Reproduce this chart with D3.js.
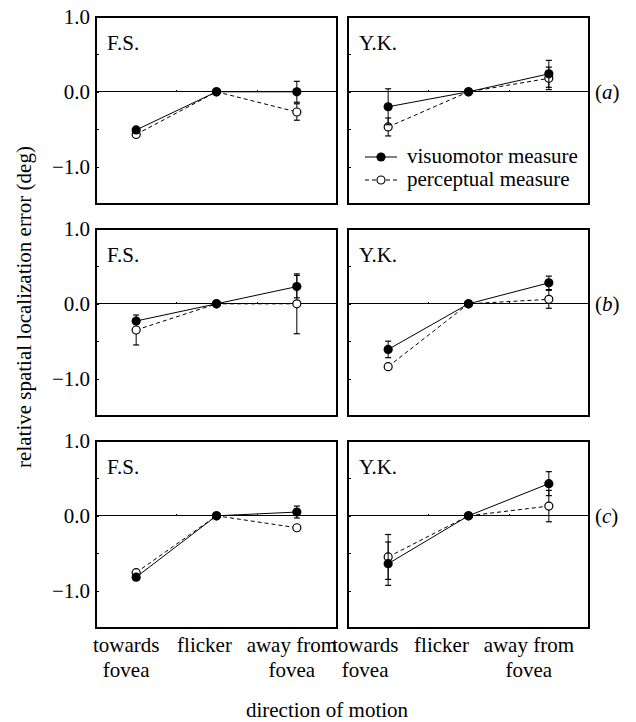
<!DOCTYPE html>
<html lang="en">
<head>
<meta charset="utf-8">
<script src="https://d3js.org/d3.v7.min.js"></script>
<style>
body { margin: 0; background: #fff; }
svg { font-family: "Liberation Serif", "Times New Roman", serif; }
.axis path { display: none; }
.axis line { stroke: #000; stroke-width: 1; shape-rendering: crispEdges; }
.axis text { font-size: 21px; fill: #000; font-family: "Liberation Serif", "Times New Roman", serif; }
</style>
</head>
<body>
<svg id="chart"></svg>
<script>
// categories along x, subjects (columns) and conditions (rows)
var categories = [["towards", "fovea"], ["flicker"], ["away from", "fovea"]];
var subjects = ["F.S.", "Y.K."];
var rowLabels = ["a", "b", "c"];
var yTicks = [-1.5, -1.0, -0.5, 0.0, 0.5, 1.0];

// mean error (deg), [row][subject][category]
var visMean = [
  [[-0.51, 0, 0.00], [-0.20, 0, 0.24]],
  [[-0.23, 0, 0.23], [-0.61, 0, 0.28]],
  [[-0.82, 0, 0.05], [-0.64, 0, 0.43]]
];
var visErr = [
  [[0.00, 0, 0.14], [0.24, 0, 0.18]],
  [[0.00, 0, 0.15], [0.11, 0, 0.09]],
  [[0.00, 0, 0.08], [0.29, 0, 0.16]]
];
var percMean = [
  [[-0.57, 0, -0.27], [-0.47, 0, 0.18]],
  [[-0.35, 0, 0.00], [-0.84, 0, 0.06]],
  [[-0.76, 0, -0.16], [-0.55, 0, 0.13]]
];
var percErr = [
  [[0.00, 0, 0.11], [0.12, 0, 0.15]],
  [[0.20, 0, 0.40], [0.00, 0, 0.12]],
  [[0.00, 0, 0.00], [0.30, 0, 0.21]]
];

// layout
var width = 636, height = 722;
var colX = [96, 348], panelW = 241;
var rowY = [17, 229, 441], panelH = 187;
// category labels sit a little left of their points
var labelShift = [[-10, -12, -5], [-23, -27, -20]];

var svg = d3.select("#chart")
    .attr("width", width)
    .attr("height", height);

var x = d3.scaleLinear().domain([0.5, 3.5]).range([0, panelW]);
var y = d3.scaleLinear().domain([-1.5, 1.0]).range([panelH, 0]);

var line = d3.line()
    .x(function(d, i) { return x(i + 1); })
    .y(function(d) { return y(d); });

function drawSeries(g, means, errs, filled, dashed) {
  g.append("path")
      .datum(means)
      .attr("d", line)
      .attr("fill", "none")
      .attr("stroke", "#000")
      .attr("stroke-width", 1)
      .attr("stroke-dasharray", dashed ? "4,3" : null);

  // error bars
  var bars = g.selectAll(null)
      .data(means.map(function(m, i) { return {i: i, m: m, e: errs[i]}; })
                 .filter(function(d) { return d.e > 0; }))
      .enter().append("g");
  bars.append("line")
      .attr("x1", function(d) { return x(d.i + 1); })
      .attr("x2", function(d) { return x(d.i + 1); })
      .attr("y1", function(d) { return y(d.m - d.e); })
      .attr("y2", function(d) { return y(d.m + d.e); })
      .attr("stroke", "#000").attr("stroke-width", 1);
  [-1, 1].forEach(function(s) {
    bars.append("line")
        .attr("x1", function(d) { return x(d.i + 1) - 3; })
        .attr("x2", function(d) { return x(d.i + 1) + 3; })
        .attr("y1", function(d) { return y(d.m + s * d.e); })
        .attr("y2", function(d) { return y(d.m + s * d.e); })
        .attr("stroke", "#000").attr("stroke-width", 1.2);
  });

  g.selectAll(null)
      .data(means)
      .enter().append("circle")
      .attr("cx", function(d, i) { return x(i + 1); })
      .attr("cy", function(d) { return y(d); })
      .attr("r", filled ? 4.6 : 4)
      .attr("fill", filled ? "#000" : "#fff")
      .attr("stroke", "#000")
      .attr("stroke-width", filled ? 0 : 1.2);
}

rowY.forEach(function(top, r) {
  colX.forEach(function(left, c) {
    var g = svg.append("g")
        .attr("transform", "translate(" + left + "," + top + ")");

    // y axis ticks (inside), labels only on left column
    g.append("g")
        .attr("class", "axis")
        .call(d3.axisLeft(y)
            .tickValues(yTicks)
            .tickSizeInner(-3)
            .tickSizeOuter(0)
            .tickPadding(6)
            .tickFormat(function(d) {
              return (c === 0 && Number.isInteger(d) && d > -1.5) ? d3.format(".1f")(d) : "";
            }));

    // zero line with small ticks
    g.append("line")
        .attr("x1", 0).attr("x2", panelW)
        .attr("y1", y(0)).attr("y2", y(0))
        .attr("stroke", "#000").attr("stroke-width", 1)
        .attr("shape-rendering", "crispEdges");
    g.append("g")
        .attr("class", "axis")
        .attr("transform", "translate(0," + y(0) + ")")
        .call(d3.axisTop(x).tickValues([1.5, 2.5]).tickSize(2).tickFormat(""));

    // frame
    g.append("rect")
        .attr("width", panelW).attr("height", panelH)
        .attr("fill", "none")
        .attr("stroke", "#000")
        .attr("stroke-width", 1.3)
        .attr("shape-rendering", "crispEdges");

    drawSeries(g, percMean[r][c], percErr[r][c], false, true);
    drawSeries(g, visMean[r][c], visErr[r][c], true, false);

    g.append("text")
        .attr("x", 11).attr("y", 33)
        .attr("font-size", 21)
        .text(subjects[c]);

    // row label on the right
    if (c === 1) {
      var t = g.append("text")
          .attr("x", panelW + 6)
          .attr("y", y(0) + 7)
          .attr("font-size", 21);
      t.append("tspan").text("(");
      t.append("tspan").attr("font-style", "italic").text(rowLabels[r]);
      t.append("tspan").text(")");
    }

    // legend in first row, right panel
    if (r === 0 && c === 1) {
      var leg = g.append("g").attr("transform", "translate(17,140)");
      [0, 1].forEach(function(k) {
        var ly = k * 23;
        leg.append("line")
            .attr("x1", 0).attr("x2", 32)
            .attr("y1", ly).attr("y2", ly)
            .attr("stroke", "#000").attr("stroke-width", 1)
            .attr("stroke-dasharray", k === 1 ? "4,3" : null);
        leg.append("circle")
            .attr("cx", 16).attr("cy", ly)
            .attr("r", k === 0 ? 4.6 : 4)
            .attr("fill", k === 0 ? "#000" : "#fff")
            .attr("stroke", "#000").attr("stroke-width", k === 0 ? 0 : 1.2);
        leg.append("text")
            .attr("x", 42).attr("y", ly + 6)
            .attr("font-size", 21)
            .text(k === 0 ? "visuomotor measure" : "perceptual measure");
      });
    }

    // category labels under bottom row
    if (r === rowY.length - 1) {
      categories.forEach(function(lines, i) {
        var t = g.append("text")
            .attr("text-anchor", "middle")
            .attr("font-size", 21);
        lines.forEach(function(s, k) {
          t.append("tspan")
              .attr("x", x(i + 1) + labelShift[c][i])
              .attr("y", panelH + 24 + k * 25)
              .text(s);
        });
      });
    }
  });
});

// axis titles
svg.append("text")
    .attr("x", 327).attr("y", 717)
    .attr("text-anchor", "middle")
    .attr("font-size", 21)
    .text("direction of motion");

svg.append("text")
    .attr("transform", "translate(31,307) rotate(-90)")
    .attr("text-anchor", "middle")
    .attr("font-size", 21)
    .text("relative spatial localization error (deg)");
</script>
</body>
</html>
